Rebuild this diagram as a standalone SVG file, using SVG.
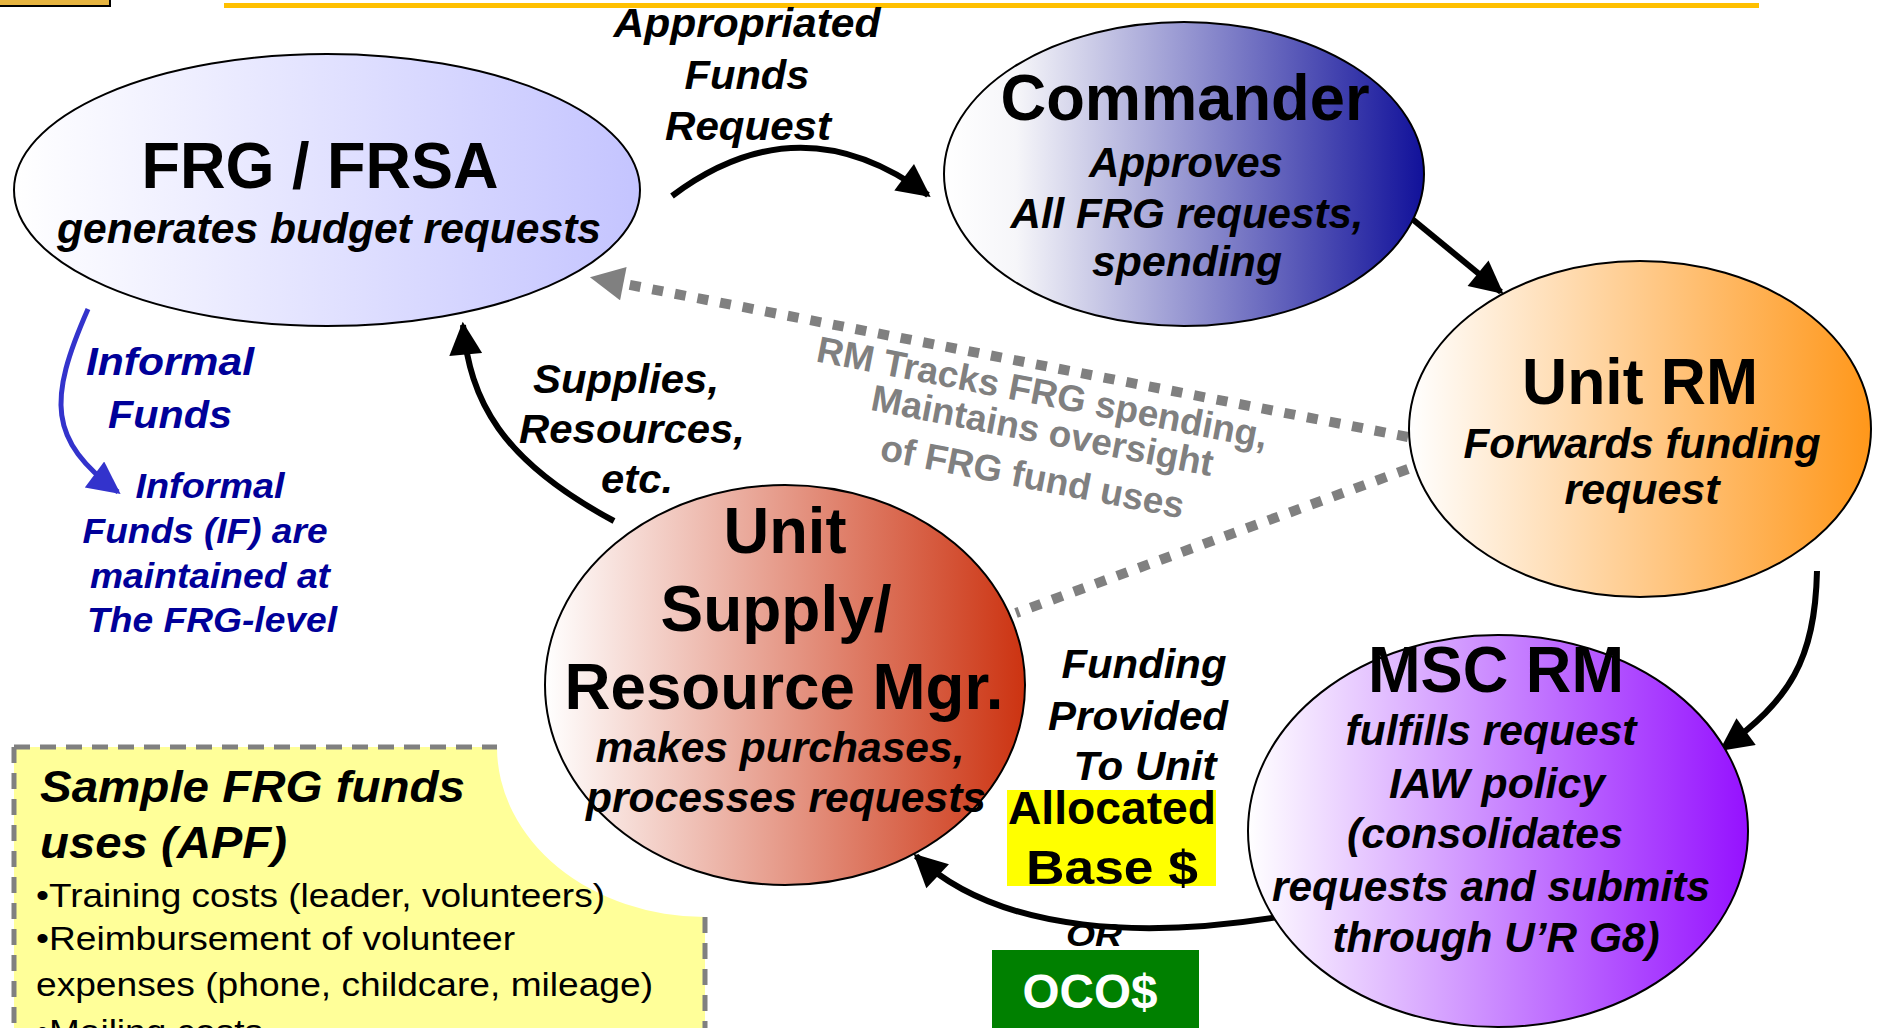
<svg xmlns="http://www.w3.org/2000/svg" width="1878" height="1028" viewBox="0 0 1878 1028">
<style>
  text { font-family: "Liberation Sans Narrow", "Liberation Sans", Arial, sans-serif; font-weight: bold; text-anchor: middle; }
  .title { font-size: 64px; fill: #000; }
  .sub { font-size: 42px; font-style: italic; fill: #000; }
  .lbl { font-size: 40px; font-style: italic; fill: #000; }
  .blue { font-size: 38px; font-style: italic; fill: #000099; }
  .gray { font-size: 37px; fill: #808080; font-family: "Liberation Sans", Arial, sans-serif; }
  .node { stroke: #000; stroke-width: 2; }
  .arrow { fill: none; stroke: #000; stroke-width: 6; marker-end: url(#ah); }
  .dots { fill: none; stroke: #808080; stroke-width: 10; stroke-dasharray: 11 12; }
  .bullet { font-size: 34px; font-weight: normal; text-anchor: start; fill: #000; }
  .boxhead { font-size: 44px; font-style: italic; text-anchor: start; fill: #000; }
</style>
<defs>
  <linearGradient id="gFRG" x1="0" y1="0" x2="1" y2="0"><stop offset="0" stop-color="#ffffff"/><stop offset="1" stop-color="#c4c4ff"/></linearGradient>
  <linearGradient id="gCmd" x1="0" y1="0" x2="1" y2="0"><stop offset="0" stop-color="#ffffff"/><stop offset="0.15" stop-color="#f6f6f9"/><stop offset="1" stop-color="#11119a"/></linearGradient>
  <linearGradient id="gURM" x1="0" y1="0" x2="1" y2="0"><stop offset="0" stop-color="#ffffff"/><stop offset="1" stop-color="#ff971a"/></linearGradient>
  <linearGradient id="gMSC" x1="0" y1="0" x2="1" y2="0"><stop offset="0" stop-color="#ffffff"/><stop offset="1" stop-color="#9511ff"/></linearGradient>
  <linearGradient id="gSup" x1="0" y1="0" x2="1" y2="0"><stop offset="0" stop-color="#ffffff"/><stop offset="1" stop-color="#cc3311"/></linearGradient>
  <marker id="ah" viewBox="0 0 10 10" refX="9" refY="5" markerWidth="6.5" markerHeight="5.5" orient="auto" markerUnits="strokeWidth"><path d="M0,0 L10,5 L0,10 z" fill="#000"/></marker>
  <marker id="ahBlue" viewBox="0 0 10 10" refX="9" refY="5" markerWidth="7" markerHeight="6.5" orient="auto" markerUnits="strokeWidth"><path d="M0,0 L10,5 L0,10 z" fill="#3333cc"/></marker>
  <marker id="ahGray" viewBox="0 0 10 10" refX="1" refY="5" markerWidth="3.6" markerHeight="3.4" orient="auto-start-reverse" markerUnits="strokeWidth"><path d="M0,0 L10,5 L0,10 z" fill="#808080"/></marker>
</defs>

<rect x="0" y="0" width="1878" height="1028" fill="#ffffff"/>

<!-- header decorations -->
<rect x="-3" y="-3" width="113" height="9" fill="#e6b440" stroke="#000" stroke-width="2"/>
<rect x="224" y="3" width="1535" height="5" fill="#ffc000"/>

<!-- sample box -->
<g id="sample-box">
  <path d="M14,747 L497,747 A208 170 0 0 0 705,917 L705,1030 L14,1030 Z" fill="#ffff99"/>
  <path d="M14,747 L497,747 M14,747 L14,1030 M705,917 L705,1030" fill="none" stroke="#808080" stroke-width="5" stroke-dasharray="16 10"/>
  <text class="boxhead" x="40" y="802" textLength="425" lengthAdjust="spacingAndGlyphs">Sample FRG funds</text>
  <text class="boxhead" x="40" y="858" textLength="247" lengthAdjust="spacingAndGlyphs">uses (APF)</text>
  <text class="bullet" x="36" y="907" textLength="569" lengthAdjust="spacingAndGlyphs">•Training costs (leader, volunteers)</text>
  <text class="bullet" x="36" y="950" textLength="479" lengthAdjust="spacingAndGlyphs">•Reimbursement of volunteer</text>
  <text class="bullet" x="36" y="996" textLength="617" lengthAdjust="spacingAndGlyphs">expenses (phone, childcare, mileage)</text>
  <text class="bullet" x="36" y="1043" textLength="227" lengthAdjust="spacingAndGlyphs">•Mailing costs</text>
</g>

<!-- connectors -->
<g id="connectors">
  <path class="dots" d="M1408,437 L620,283" marker-end="url(#ahGray)"/>
  <path class="dots" d="M1408,469 L1016,613"/>
  <path class="arrow" d="M672,196 Q800,100 928,195"/>
  <path class="arrow" d="M1411,218 L1501,292"/>
  <path class="arrow" d="M1817,571 C1815,660 1790,700 1722,749"/>
  <path class="arrow" d="M1296,914 C1150,940 1000,935 916,856"/>
  <path class="arrow" d="M614,521 C500,460 470,400 463,325"/>
  <path d="M88,309 C48,400 48,440 118,492" fill="none" stroke="#3333cc" stroke-width="5" marker-end="url(#ahBlue)"/>
</g>

<!-- nodes -->
<g id="frg">
  <ellipse class="node" cx="327" cy="190" rx="313" ry="136" fill="url(#gFRG)"/>
  <text class="title" x="320" y="188" textLength="357" lengthAdjust="spacingAndGlyphs">FRG / FRSA</text>
  <text class="sub" x="329" y="243" textLength="544" lengthAdjust="spacingAndGlyphs">generates budget requests</text>
</g>

<g id="commander">
  <ellipse class="node" cx="1184" cy="174" rx="240" ry="152" fill="url(#gCmd)"/>
  <text class="title" x="1185" y="120" textLength="369" lengthAdjust="spacingAndGlyphs">Commander</text>
  <text class="sub" x="1186" y="177" textLength="194" lengthAdjust="spacingAndGlyphs">Approves</text>
  <text class="sub" x="1187" y="228" textLength="353" lengthAdjust="spacingAndGlyphs">All FRG requests,</text>
  <text class="sub" x="1187" y="276" textLength="190" lengthAdjust="spacingAndGlyphs">spending</text>
</g>

<g id="unit-rm">
  <ellipse class="node" cx="1640" cy="429" rx="231" ry="168" fill="url(#gURM)"/>
  <text class="title" x="1640" y="404" textLength="236" lengthAdjust="spacingAndGlyphs">Unit RM</text>
  <text class="sub" x="1642" y="458" textLength="357" lengthAdjust="spacingAndGlyphs">Forwards funding</text>
  <text class="sub" x="1642" y="504" textLength="155" lengthAdjust="spacingAndGlyphs">request</text>
</g>

<g id="msc-rm">
  <ellipse class="node" cx="1498" cy="831" rx="250" ry="196" fill="url(#gMSC)"/>
  <text class="title" x="1496" y="692" textLength="256" lengthAdjust="spacingAndGlyphs">MSC RM</text>
  <text class="sub" x="1491" y="745" textLength="291" lengthAdjust="spacingAndGlyphs">fulfills request</text>
  <text class="sub" x="1497" y="798" textLength="216" lengthAdjust="spacingAndGlyphs">IAW policy</text>
  <text class="sub" x="1485" y="848" textLength="276" lengthAdjust="spacingAndGlyphs">(consolidates</text>
  <text class="sub" x="1491" y="901" textLength="438" lengthAdjust="spacingAndGlyphs">requests and submits</text>
  <text class="sub" x="1496" y="952" textLength="327" lengthAdjust="spacingAndGlyphs">through U’R G8)</text>
</g>

<g id="unit-supply">
  <ellipse class="node" cx="785" cy="685" rx="240" ry="200" fill="url(#gSup)"/>
  <text class="title" x="785" y="553" textLength="123" lengthAdjust="spacingAndGlyphs">Unit</text>
  <text class="title" x="776" y="631" textLength="231" lengthAdjust="spacingAndGlyphs">Supply/</text>
  <text class="title" x="784" y="709" textLength="439" lengthAdjust="spacingAndGlyphs">Resource Mgr.</text>
  <text class="sub" x="780" y="762" textLength="369" lengthAdjust="spacingAndGlyphs">makes purchases,</text>
  <text class="sub" x="786" y="812" textLength="400" lengthAdjust="spacingAndGlyphs">processes requests</text>
</g>

<!-- labels -->
<g id="label-appropriated">
  <text class="lbl" x="747" y="37" textLength="267" lengthAdjust="spacingAndGlyphs">Appropriated</text>
  <text class="lbl" x="747" y="89" textLength="125" lengthAdjust="spacingAndGlyphs">Funds</text>
  <text class="lbl" x="748" y="140" textLength="166" lengthAdjust="spacingAndGlyphs">Request</text>
</g>

<g id="label-supplies">
  <text class="lbl" x="626" y="393" textLength="186" lengthAdjust="spacingAndGlyphs">Supplies,</text>
  <text class="lbl" x="632" y="443" textLength="226" lengthAdjust="spacingAndGlyphs">Resources,</text>
  <text class="lbl" x="637" y="493" textLength="72" lengthAdjust="spacingAndGlyphs">etc.</text>
</g>

<g id="label-informal">
  <text class="blue" x="170" y="375" textLength="168" lengthAdjust="spacingAndGlyphs">Informal</text>
  <text class="blue" x="170" y="428" textLength="124" lengthAdjust="spacingAndGlyphs">Funds</text>
  <text class="blue" x="210" y="498" textLength="149" lengthAdjust="spacingAndGlyphs" style="font-size:35px">Informal</text>
  <text class="blue" x="205" y="543" textLength="245" lengthAdjust="spacingAndGlyphs" style="font-size:35px">Funds (IF) are</text>
  <text class="blue" x="210" y="588" textLength="240" lengthAdjust="spacingAndGlyphs" style="font-size:35px">maintained at</text>
  <text class="blue" x="212" y="632" textLength="250" lengthAdjust="spacingAndGlyphs" style="font-size:35px">The FRG-level</text>
</g>

<g id="label-rm-tracks">
  <text class="gray" transform="translate(1040,405) rotate(11)" x="0" y="0">RM Tracks FRG spending,</text>
  <text class="gray" transform="translate(1040,443) rotate(11)" x="0" y="0">Maintains oversight</text>
  <text class="gray" transform="translate(1030,489) rotate(11)" x="0" y="0">of FRG fund uses</text>
</g>

<g id="label-funding">
  <text class="lbl" x="1144" y="678" textLength="165" lengthAdjust="spacingAndGlyphs">Funding</text>
  <text class="lbl" x="1138" y="730" textLength="180" lengthAdjust="spacingAndGlyphs">Provided</text>
  <text class="lbl" x="1145" y="780" textLength="143" lengthAdjust="spacingAndGlyphs">To Unit</text>
</g>

<g id="allocated-base">
  <rect x="1007" y="790" width="209" height="96" fill="#ffff00"/>
  <text x="1112" y="824" textLength="208" lengthAdjust="spacingAndGlyphs" style="font-size:46px">Allocated</text>
  <text x="1112" y="884" textLength="172" lengthAdjust="spacingAndGlyphs" style="font-size:48px">Base $</text>
</g>

<text id="label-or" class="lbl" x="1094" y="946" textLength="56" lengthAdjust="spacingAndGlyphs" style="font-size:31px">OR</text>

<g id="oco">
  <rect x="992" y="950" width="207" height="80" fill="#008000"/>
  <text x="1090" y="1008" textLength="135" lengthAdjust="spacingAndGlyphs" style="font-size:48px;fill:#ffffff">OCO$</text>
</g>
</svg>
